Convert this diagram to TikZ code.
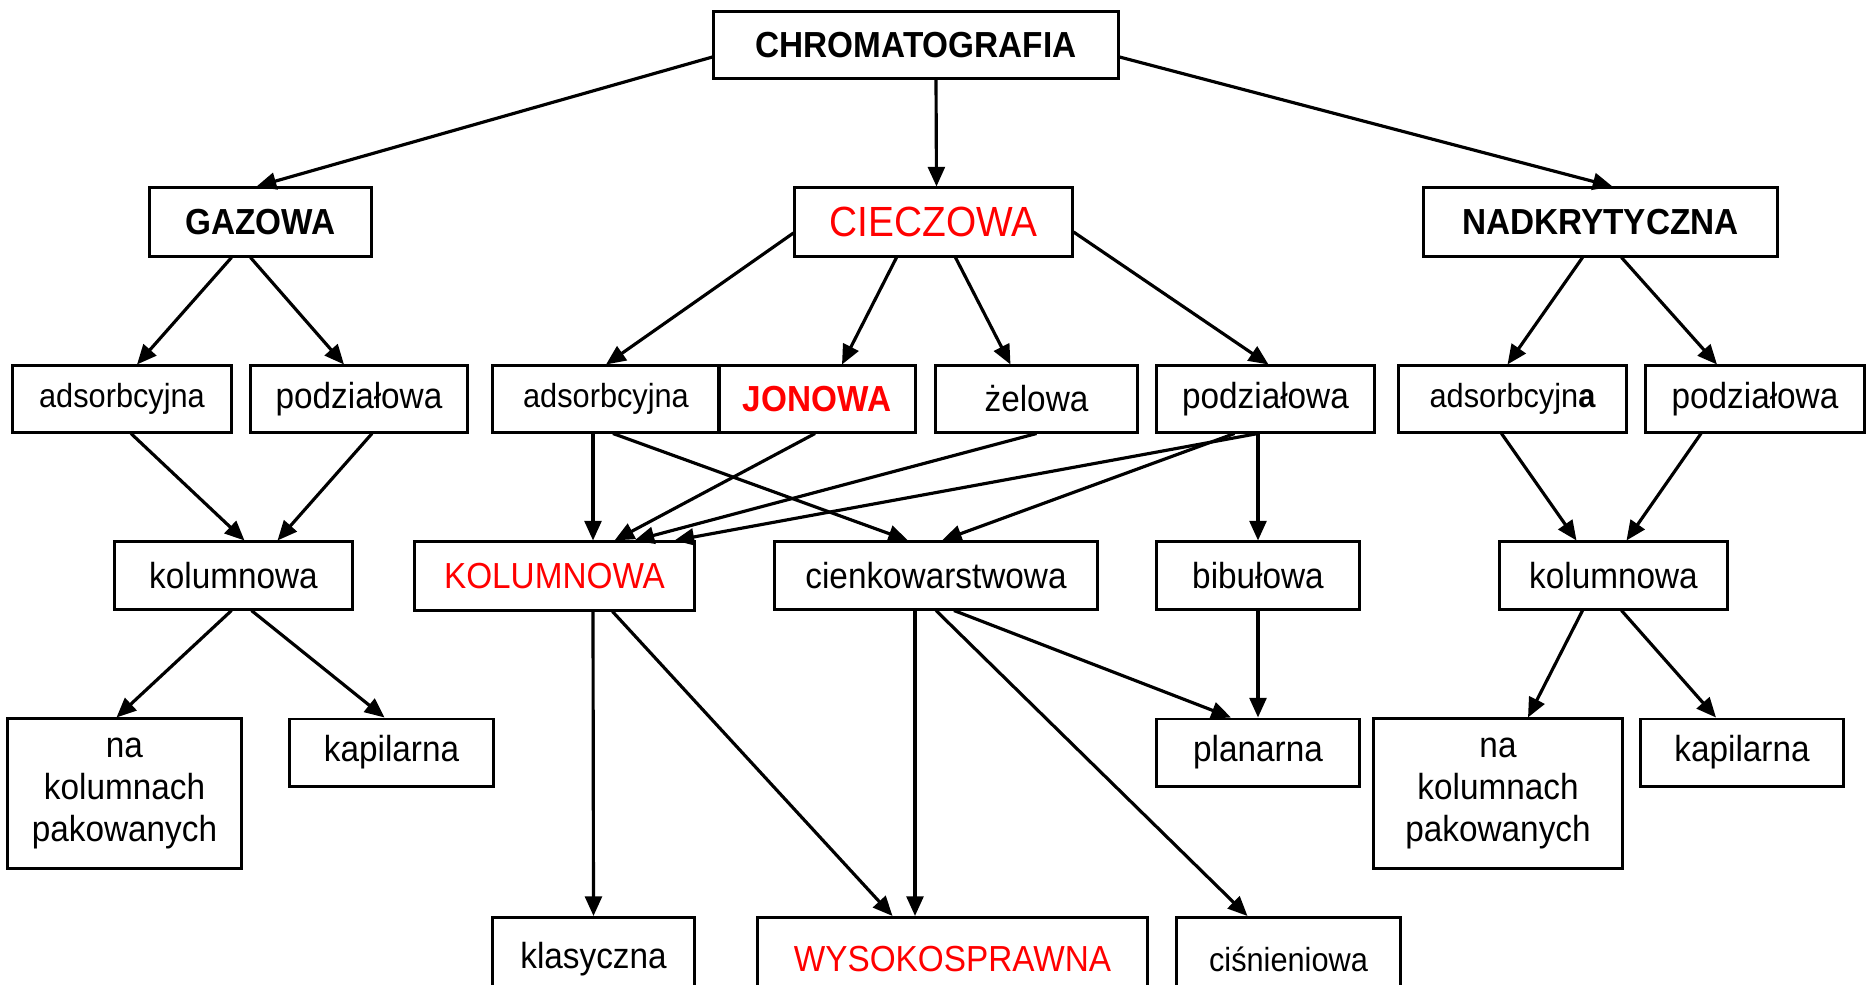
\documentclass[tikz,border=0pt]{standalone}
\usepackage{fontspec}
\setmainfont{Liberation Sans}[FakeStretch=0.92]
\usetikzlibrary{arrows.meta,calc}

\begin{document}
\begin{tikzpicture}[x=0.01cm,y=-0.01cm,>={Triangle[length=5.6pt,width=4.8pt]},
  box/.style={draw,line width=0.85pt,inner sep=1pt,minimum height=0.66cm,align=center,
    font=\fontsize{10.3}{11.9}\selectfont},
  small/.style={font=\fontsize{9.5}{11}\selectfont},
  hdr/.style={font=\fontsize{10.3}{12}\selectfont\bfseries},
  redtxt/.style={text=red},
  link/.style={->,line width=0.9pt}]
  \useasboundingbox (0,0) rectangle (1866,984);
  \node[box,hdr,minimum width=4.04cm] (chrom) at (916,45) {CHROMATOGRAFIA};
  \node[box,hdr,minimum width=2.21cm,minimum height=0.68cm] (gaz) at (260.5,222) {GAZOWA};
  \node[box,redtxt,font=\fontsize{12}{14}\selectfont,minimum width=2.77cm,minimum height=0.68cm] (ciecz) at (933.5,222) {CIECZOWA};
  \node[box,hdr,minimum width=3.53cm,minimum height=0.68cm] (nadk) at (1600.5,222) {NADKRYTYCZNA};

  \node[box,small,minimum width=2.18cm] (adsG) at (122,399) {adsorbcyjna};
  \node[box,minimum width=2.16cm] (podzG) at (359,399) {podziałowa};
  \node[box,small,minimum width=2.26cm] (adsC) at (606,399) {adsorbcyjna};
  \node[box,hdr,redtxt,minimum width=1.96cm] (jon) at (817,399) {JONOWA};
  \node[box,minimum width=2.01cm] (zel) at (1036.5,399) {żelowa};
  \node[box,minimum width=2.17cm] (podzC) at (1265.5,399) {podziałowa};
  \node[box,small,minimum width=2.27cm] (adsN) at (1512.5,399) {adsorbcyjn{\bfseries a}};
  \node[box,minimum width=2.18cm] (podzN) at (1755,399) {podziałowa};

  \node[box,minimum width=2.37cm,minimum height=0.67cm] (kolG) at (233.5,575.5) {kolumnowa};
  \node[box,redtxt,minimum width=2.79cm,minimum height=0.68cm] (kolC) at (554.5,576) {KOLUMNOWA};
  \node[box,minimum width=3.22cm,minimum height=0.67cm] (cienk) at (936,575.5) {cienkowarstwowa};
  \node[box,minimum width=2.02cm,minimum height=0.67cm] (bib) at (1258,575.5) {bibułowa};
  \node[box,minimum width=2.27cm,minimum height=0.67cm] (kolN) at (1613.5,575.5) {kolumnowa};

  \node[box,minimum width=2.33cm,minimum height=1.49cm] (nakG) at (124.5,793.5) {na\\kolumnach\\pakowanych};
  \node[box,minimum width=2.03cm,minimum height=0.67cm] (kapG) at (391.5,752.5) {kapilarna};
  \node[box,minimum width=2.02cm,minimum height=0.67cm] (plan) at (1258,752.5) {planarna};
  \node[box,minimum width=2.48cm,minimum height=1.49cm] (nakN) at (1498,793.5) {na\\kolumnach\\pakowanych};
  \node[box,minimum width=2.02cm,minimum height=0.67cm] (kapN) at (1742,752.5) {kapilarna};

  \node[box,minimum width=2.01cm,minimum height=0.83cm] (klas) at (593.5,959) {klasyczna};
  \node[box,redtxt,minimum width=3.89cm,minimum height=0.83cm] (wys) at (952.5,959) {WYSOKOSPRAWNA};
  \node[box,small,minimum width=2.23cm,minimum height=0.83cm] (cis) at (1288.5,959) {ciśnieniowa};

  \draw[link] ($(chrom.west)+(0,12)$) -- ($(gaz.north)+(-4,0)$);
  \draw[link] ($(chrom.south)+(20,0)$) -- ($(ciecz.north)+(3,0)$);
  \draw[link] ($(chrom.east)+(0,12)$) -- ($(nadk.north)+(12,0)$);

  \draw[link] ($(gaz.south)+(-29,0)$) -- ($(adsG.north)+(15,0)$);
  \draw[link] ($(gaz.south)+(-10,0)$) -- ($(podzG.north)+(-15,0)$);
  \draw[link] ($(ciecz.west)+(0,11)$) -- (adsC.north);
  \draw[link] ($(ciecz.south)+(-37,0)$) -- ($(jon.north)+(25,0)$);
  \draw[link] ($(ciecz.south)+(22,0)$) -- ($(zel.north)+(-26,0)$);
  \draw[link] ($(ciecz.east)+(0,10)$) -- ($(podzC.north)+(3,0)$);
  \draw[link] ($(nadk.south)+(-18,0)$) -- ($(adsN.north)+(-5,0)$);
  \draw[link] ($(nadk.south)+(21,0)$) -- ($(podzN.north)+(-38,0)$);

  \draw[link] ($(adsG.south)+(9,0)$) -- ($(kolG.north)+(11,0)$);
  \draw[link] ($(podzG.south)+(13,0)$) -- ($(kolG.north)+(44,0)$);
  \draw[link] ($(adsC.south)+(-13,0)$) -- ($(kolC.north)+(38.5,0)$);
  \draw[link] ($(adsC.south)+(7,0)$) -- ($(cienk.north)+(-28,0)$);
  \draw[link] ($(jon.south)+(-2,0)$) -- ($(kolC.north)+(60,0)$);
  \draw[link] (zel.south) -- ($(kolC.north)+(80,0)$);
  \draw[link] ($(podzC.south)+(-7.5,0)$) -- ($(kolC.north)+(120,0)$);
  \draw[link] ($(podzC.south)+(-31,0)$) -- ($(cienk.north)+(6,0)$);
  \draw[link] ($(podzC.south)+(-7.5,0)$) -- (bib.north);
  \draw[link] ($(adsN.south)+(-11,0)$) -- ($(kolN.north)+(-37,0)$);
  \draw[link] ($(podzN.south)+(-54,0)$) -- ($(kolN.north)+(13,0)$);

  \draw[link] ($(kolG.south)+(-2,0)$) -- ($(nakG.north)+(-8,0)$);
  \draw[link] ($(kolG.south)+(18,0)$) -- ($(kapG.north)+(-7,0)$);
  \draw[link] ($(kolC.south)+(38.5,0)$) -- (klas.north);
  \draw[link] ($(kolC.south)+(58,0)$) -- ($(wys.north)+(-60,0)$);
  \draw[link] ($(cienk.south)+(-21,0)$) -- ($(wys.north)+(-37.5,0)$);
  \draw[link] (cienk.south) -- ($(cis.north)+(-41,0)$);
  \draw[link] ($(cienk.south)+(18,0)$) -- ($(plan.north)+(-27,0)$);
  \draw[link] (bib.south) -- (plan.north);
  \draw[link] ($(kolN.south)+(-31,0)$) -- ($(nakN.north)+(30,0)$);
  \draw[link] ($(kolN.south)+(8,0)$) -- ($(kapN.north)+(-26,0)$);
\end{tikzpicture}
\end{document}
